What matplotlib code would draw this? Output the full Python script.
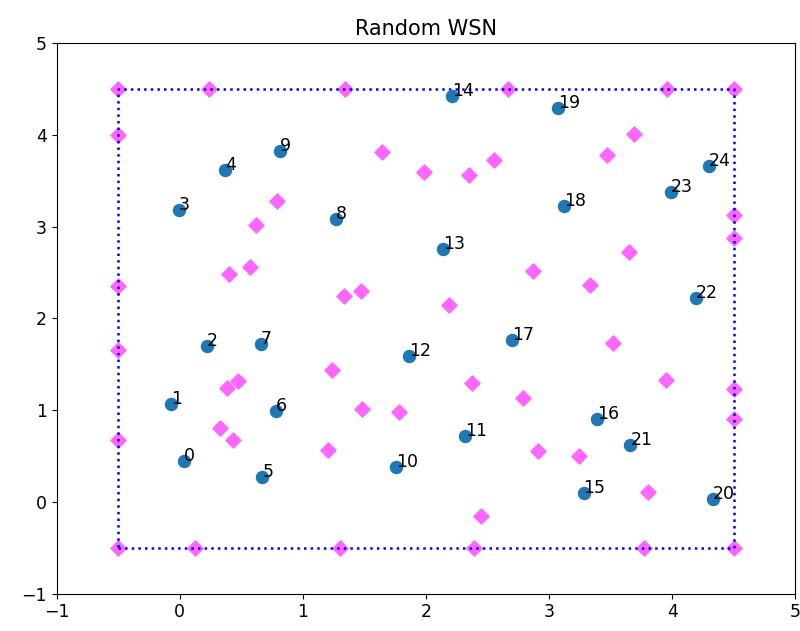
import matplotlib
matplotlib.use("Agg")
import matplotlib.pyplot as plt

# sensor nodes (numbered)
node_x = [0.03, -0.07, 0.22, -0.01, 0.37, 0.67, 0.78, 0.66, 1.27, 0.81,
          1.76, 2.32, 1.86, 2.14, 2.21, 3.28, 3.39, 2.70, 3.12, 3.07,
          4.33, 3.66, 4.19, 3.99, 4.30]
node_y = [0.45, 1.07, 1.70, 3.18, 3.62, 0.27, 0.99, 1.72, 3.08, 3.82,
          0.38, 0.72, 1.59, 2.75, 4.42, 0.10, 0.90, 1.76, 3.22, 4.29,
          0.03, 0.62, 2.22, 3.38, 3.66]

# candidate points (magenta diamonds)
cand_x = [-0.5, 4.5, -0.5, 4.5,
          0.24, 1.34, 2.67, 3.96,
          -0.5, -0.5, -0.5, -0.5,
          4.5, 4.5, 4.5, 4.5,
          0.12, 1.30, 2.39, 3.77,
          1.64, 1.98, 2.35, 2.55, 3.69, 3.47, 0.79, 0.62, 0.57, 0.40,
          1.33, 1.47, 2.19, 2.87, 3.33, 3.65, 3.52, 1.24, 2.37, 2.79,
          3.95, 0.47, 0.38, 1.48, 1.78, 0.33, 0.43, 1.20, 2.91, 3.24,
          3.80, 2.45]
cand_y = [4.5, 4.5, -0.5, -0.5,
          4.5, 4.5, 4.5, 4.5,
          4.00, 2.35, 1.66, 0.68,
          3.13, 2.88, 1.23, 0.90,
          -0.5, -0.5, -0.5, -0.5,
          3.81, 3.59, 3.56, 3.73, 4.01, 3.78, 3.28, 3.02, 2.56, 2.48,
          2.24, 2.30, 2.14, 2.52, 2.36, 2.72, 1.73, 1.44, 1.30, 1.13,
          1.33, 1.32, 1.24, 1.01, 0.98, 0.81, 0.68, 0.57, 0.56, 0.50,
          0.11, -0.15]

# field boundary
box_x = [-0.5, 4.5, 4.5, -0.5, -0.5]
box_y = [-0.5, -0.5, 4.5, 4.5, -0.5]

plt.rcParams["font.size"] = 12.5

fig = plt.figure(figsize=(8, 6.31), dpi=100)
ax = fig.add_axes([0.071, 0.059, 0.923, 0.873])

ax.scatter(cand_x, cand_y, marker="D", s=60, color="#ff66ff", zorder=2)
ax.plot(box_x, box_y, color="blue", linestyle=":", linewidth=1.8, zorder=3)
ax.scatter(node_x, node_y, s=75, color="#1f77b4", zorder=4)
for i, (x, y) in enumerate(zip(node_x, node_y)):
    ax.text(x, y, str(i), zorder=5)

ax.set_xlim(-1, 5)
ax.set_ylim(-1, 5)
ax.set_title("Random WSN")

fig.savefig("out.png")
